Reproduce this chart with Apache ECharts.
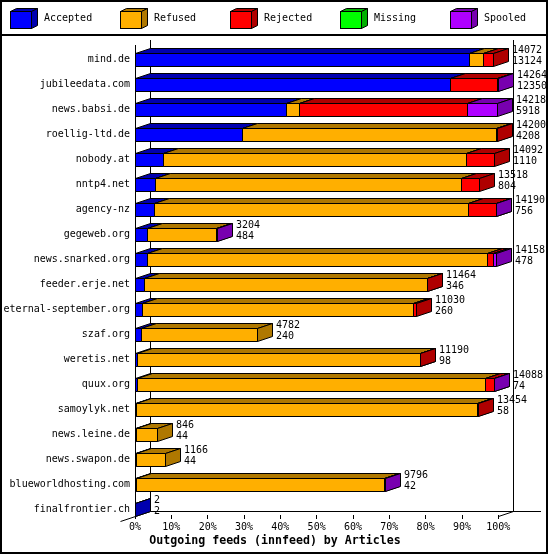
<!DOCTYPE html>
<html><head><meta charset="utf-8">
<script src="https://cdn.jsdelivr.net/npm/echarts@6/dist/echarts.min.js"></script>
<style>html,body{margin:0;padding:0;background:#fff}#c{width:550px;height:555px}</style>
</head><body><div id="c"></div>
<script>
const hosts = ['mind.de','jubileedata.com','news.babsi.de','roellig-ltd.de','nobody.at','nntp4.net','agency-nz','gegeweb.org','news.snarked.org','feeder.erje.net','eternal-september.org','szaf.org','weretis.net','quux.org','samoylyk.net','news.leine.de','news.swapon.de','blueworldhosting.com','finalfrontier.ch'];
const totals   = [14072,14264,14218,14200,14092,13518,14190,3204,14158,11464,11030,4782,11190,14088,13454,846,1166,9796,2];
const accepted = [13124,12350,5918,4208,1110,804,756,484,478,346,260,240,98,74,58,44,44,42,2];
const refused  = [530,0,529,9980,11905,11976,12302,2714,13330,11110,10646,4542,11084,13656,13388,802,1122,9746,0];
const rejected = [418,1846,6577,12,1077,738,1124,0,250,8,124,0,8,346,8,0,0,0,0];
const missing  = [0,0,0,0,0,0,0,0,0,0,0,0,0,0,0,0,0,0,0];
const spooled  = [0,68,1194,0,0,0,8,6,100,0,0,0,0,12,0,0,0,8,0];
const seriesNames = ['Accepted','Refused','Rejected','Missing','Spooled'];
const frontColors = ['#0000FF','#FFAF00','#FF0000','#00FF00','#AF00FF'];
const sideColors  = ['#0000AF','#AF7800','#AF0000','#00AF00','#7800AF'];
const tickLabels = ['0%','10%','20%','30%','40%','50%','60%','70%','80%','90%','100%'];
const titleText = 'Outgoing feeds (innfeed) by Articles';

const FONT = '"DejaVu Sans Mono", "Liberation Mono", monospace';
const DX = 15, DY = 5;
const maxTotal = Math.max(...totals);
const r5 = v => Math.round(v) + 0.5;

function makeRender(s) {
  return function (params, api) {
    const cat = api.value(0);
    const a = api.coord([api.value(1), cat]);
    const b = api.coord([api.value(2), cat]);
    const band = api.size([0, 1])[1];
    const h = Math.round(band / 2);
    const top = r5(a[1] - band / 4), bot = top + h;
    const x0 = r5(a[0]), x1 = Math.max(x0, b[0] >= x0 ? Math.round(b[0]) + 0.5 : x0);
    const st = { stroke: '#000', lineWidth: 1 };
    return {
      type: 'group',
      children: [
        { type: 'rect', shape: { x: x0, y: top, width: x1 - x0, height: h }, style: Object.assign({ fill: frontColors[s] }, st) },
        { type: 'polygon', shape: { points: [[x0, top], [x0 + DX, top - DY], [x1 + DX, top - DY], [x1, top]] }, style: Object.assign({ fill: sideColors[s] }, st) },
        { type: 'polygon', shape: { points: [[x1, top], [x1 + DX, top - DY], [x1 + DX, bot - DY], [x1, bot]] }, style: Object.assign({ fill: sideColors[s] }, st) }
      ]
    };
  };
}

const segs = [accepted, refused, rejected, missing, spooled];
const cum = hosts.map(() => 0);
const series = segs.map((arr, s) => {
  const data = [];
  arr.forEach((v, i) => {
    const st = cum[i]; cum[i] += v;
    if (v > 0) data.push([i, st / maxTotal * 100, cum[i] / maxTotal * 100]);
  });
  return {
    type: 'custom', name: seriesNames[s], renderItem: makeRender(s), data: data,
    dimensions: ['cat', 'start', 'end'], encode: { y: 0, x: [1, 2] },
    itemStyle: { color: frontColors[s] }, animation: false, silent: true
  };
});
series.push({
  type: 'custom', name: 'values', silent: true, animation: false, z: 5,
  data: hosts.map((h, i) => [i, totals[i] / maxTotal * 100, totals[i], accepted[i]]),
  dimensions: ['cat', 'pos', 'total', 'acc'], encode: { y: 0, x: 1 },
  renderItem: function (params, api) {
    const p = api.coord([api.value(1), api.value(0)]);
    const x = Math.round(p[0]) + DX + 4;
    return {
      type: 'group', children: [
        { type: 'text', x: x, y: Math.round(p[1] - 10), style: { text: String(api.value(2)), fill: '#000', font: '10px ' + FONT, verticalAlign: 'middle', align: 'left' } },
        { type: 'text', x: x, y: Math.round(p[1] + 1), style: { text: String(api.value(3)), fill: '#000', font: '10px ' + FONT, verticalAlign: 'middle', align: 'left' } }
      ]
    };
  }
});

function cubeIcon(front, side) {
  const svg = '<svg xmlns="http://www.w3.org/2000/svg" width="29" height="21" viewBox="0 0 29 21">' +
    '<rect x="0.5" y="3.5" width="21" height="17" fill="' + front + '" stroke="#000"/>' +
    '<polygon points="0.5,3.5 6.5,0.5 27.5,0.5 21.5,3.5" fill="' + side + '" stroke="#000"/>' +
    '<polygon points="21.5,3.5 27.5,0.5 27.5,17.5 21.5,20.5" fill="' + side + '" stroke="#000"/>' +
    '</svg>';
  return 'image://data:image/svg+xml;charset=utf-8,' + encodeURIComponent(svg);
}

const legends = seriesNames.map((n, s) => ({
  data: [{ name: n, icon: cubeIcon(frontColors[s], sideColors[s]) }],
  left: 10 + 110 * s, top: 8, padding: 0, itemWidth: 29, itemHeight: 21, selectedMode: false,
  textStyle: { fontFamily: FONT, fontSize: 10, color: '#000' }
}));

const option = {
  animation: false,
  backgroundColor: '#fff',
  title: { text: titleText, left: 'center', top: 535, padding: 0, textStyle: { fontFamily: FONT, fontSize: 11.6, fontWeight: 'bold', color: '#000' } },
  legend: legends,
  grid: { left: 135, top: 47, width: 363.3, height: 475, containLabel: false },
  xAxis: {
    type: 'value', min: 0, max: 100, interval: 10, offset: -7,
    axisLine: { show: false }, splitLine: { show: false },
    axisTick: { show: true, length: 4, lineStyle: { color: '#000', width: 1 } },
    axisLabel: { margin: 7, fontFamily: FONT, fontSize: 10, color: '#000', formatter: v => tickLabels[Math.round(v / 10)] }
  },
  yAxis: {
    type: 'category', data: hosts, inverse: true,
    axisLine: { show: false }, axisTick: { show: false }, splitLine: { show: false },
    axisLabel: { margin: 5, fontFamily: FONT, fontSize: 10, color: '#000' }
  },
  series: series
};

const chart = echarts.init(document.getElementById('c'), null, { renderer: 'canvas' });
chart.setOption(option);

const xf0 = chart.convertToPixel({ xAxisIndex: 0 }, 0);
const xf100 = chart.convertToPixel({ xAxisIndex: 0 }, 100);
const yFirst = chart.convertToPixel({ yAxisIndex: 0 }, 0);
const yLast = chart.convertToPixel({ yAxisIndex: 0 }, hosts.length - 1);
const frontBottom = Math.round(yLast + 6.25);
const backBottom = frontBottom - DY;
const backTop = Math.round(yFirst - 6.25 - 13);
const frontTop = backTop + DY;
const L = (x1, y1, x2, y2, w) => ({ type: 'line', z: 0, silent: true, shape: { x1: x1, y1: y1, x2: x2, y2: y2 }, style: { stroke: '#000', lineWidth: w || 1 } });
const a0 = Math.round(xf0) + 0.5, a100 = Math.round(xf100) + 0.5;
chart.setOption({
  graphic: [
    L(a0, frontTop, a0, frontBottom + 0.5),
    L(a0 + DX, backTop, a0 + DX, backBottom + 0.5),
    L(a100 + DX, backTop, a100 + DX, backBottom + 0.5),
    L(a0 + DX, backBottom + 0.5, 541, backBottom + 0.5),
    L(a0 - DX, frontBottom + DY + 0.5, a0 + DX, backBottom + 0.5),
    L(a100, frontBottom + 0.5, a100 + DX, backBottom + 0.5),
    L(0, 35, 548, 35, 2),
    { type: 'rect', z: 0, silent: true, shape: { x: 1, y: 1, width: 546, height: 552 }, style: { fill: null, stroke: '#000', lineWidth: 2 } }
  ]
});
</script></body></html>
